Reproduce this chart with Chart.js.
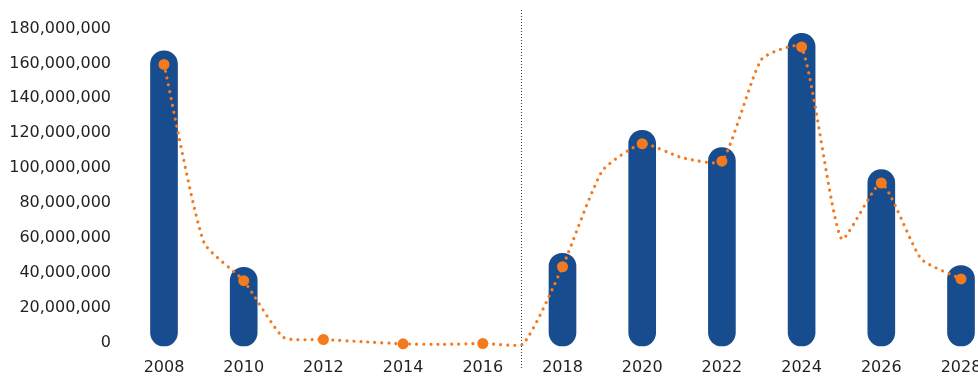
<!DOCTYPE html>
<html>
<head>
<meta charset="utf-8">
<script src="https://cdn.jsdelivr.net/npm/chart.js@4/dist/chart.umd.min.js"></script>
<style>
  html, body { margin: 0; padding: 0; background: #ffffff; }
  #wrap { width: 978px; height: 376px; position: relative; }
</style>
</head>
<body>
<div id="wrap"><canvas id="chart"></canvas></div>
<script>
// Years on the category axis (every year; labels shown on even years only)
const years = ['2008','2009','2010','2011','2012','2013','2014','2015','2016','2017','2018',
               '2019','2020','2021','2022','2023','2024','2025','2026','2027','2028'];

// Bar series (even years that carry a bar)
const barValues = [158000000, null, 34000000, null, null, null, null, null, null, null, 42000000,
                   null, 112500000, null, 102500000, null, 168000000, null, 90000000, null, 35000000];

// Trend line, one value per year
const trendValues = [158000000, 56000000, 34000000, 1500000, 300000, -1000000, -2200000, -2500000, -2000000, -2500000, 42000000,
                     97000000, 112500000, 104500000, 102500000, 161000000, 168000000, 58000000, 90000000, 46500000, 35000000];

// Value axis ticks
const yTicks = [0, 20000000, 40000000, 60000000, 80000000, 100000000, 120000000, 140000000, 160000000, 180000000];

// Year where the dotted divider sits
const dividerYear = '2017';

const BLUE = '#174C8E';
const ORANGE = '#F47A20';
const TEXT = '#231F20';

// Round-capped bars: the cap extends past the value end and slightly under the base
const capBars = {
  id: 'capBars',
  beforeDatasetDraw(chart, args) {
    const meta = args.meta;
    if (meta.type !== 'bar') return;
    meta.data.forEach(el => {
      el._saved = { y: el.y, base: el.base };
      const r = el.width / 2;
      el.y = el.y - r;
      el.base = el.base + 6;
    });
  },
  afterDatasetDraw(chart, args) {
    const meta = args.meta;
    if (meta.type !== 'bar') return;
    meta.data.forEach(el => {
      if (el._saved) { el.y = el._saved.y; el.base = el._saved.base; }
    });
  }
};

// Centre the value labels optically on their tick positions
const labelNudge = {
  id: 'labelNudge',
  beforeDraw(chart) {
    const items = chart.scales.y.getLabelItems();
    if (items._nudged) return;
    items.forEach(it => { it.options.translation[1] += 2.5; });
    items._nudged = true;
  }
};

// Dotted vertical divider
const divider = {
  id: 'divider',
  beforeDatasetsDraw(chart) {
    const { ctx, chartArea, scales } = chart;
    const x = Math.round(scales.x.getPixelForValue(years.indexOf(dividerYear))) - 1.5;
    ctx.save();
    ctx.strokeStyle = '#3a3a3a';
    ctx.lineWidth = 1;
    ctx.setLineDash([1, 2]);
    ctx.beginPath();
    ctx.moveTo(x, chartArea.top - 16);
    ctx.lineTo(x, chartArea.bottom + 21);
    ctx.stroke();
    ctx.restore();
  }
};

new Chart(document.getElementById('chart'), {
  data: {
    labels: years,
    datasets: [
      {
        type: 'line',
        data: trendValues,
        order: 1,
        borderColor: ORANGE,
        borderWidth: 3.2,
        borderDash: [0.001, 7],
        borderCapStyle: 'round',
        tension: 0.18,
        fill: false,
        clip: false,
        pointRadius: ctx => (ctx.dataIndex % 2 === 0 ? 5.5 : 0),
        pointBackgroundColor: ORANGE,
        pointBorderWidth: 0,
        pointHoverRadius: 0
      },
      {
        type: 'bar',
        data: barValues,
        order: 2,
        backgroundColor: BLUE,
        barThickness: 27,
        borderRadius: 14,
        borderSkipped: false,
        clip: false
      }
    ]
  },
  plugins: [capBars, labelNudge, divider],
  options: {
    responsive: true,
    maintainAspectRatio: false,
    animation: false,
    layout: { padding: { top: 26, right: 17, bottom: 0, left: 0 } },
    plugins: {
      legend: { display: false },
      tooltip: { enabled: false }
    },
    scales: {
      x: {
        offset: false,
        grid: { display: false, drawTicks: false },
        border: { display: false },
        afterFit: s => { s.height = 29; s.paddingLeft = 0; s.paddingRight = 0; },
        ticks: {
          autoSkip: false,
          maxRotation: 0,
          padding: 11,
          color: TEXT,
          font: { family: 'DejaVu Sans', size: 16 },
          callback: function (v, i) { return i % 2 === 0 ? years[i] : ''; }
        }
      },
      y: {
        min: -4000000,
        max: 180000000,
        grid: { display: false, drawTicks: false },
        border: { display: false },
        afterFit: s => { s.width = 164; s.paddingTop = 0; s.paddingBottom = 0; },
        afterBuildTicks: s => { s.ticks = yTicks.map(v => ({ value: v })); },
        ticks: {
          padding: 53,
          color: TEXT,
          font: { family: 'DejaVu Sans', size: 16 },
          callback: v => v.toLocaleString('en-US')
        }
      }
    }
  }
});
</script>
</body>
</html>
